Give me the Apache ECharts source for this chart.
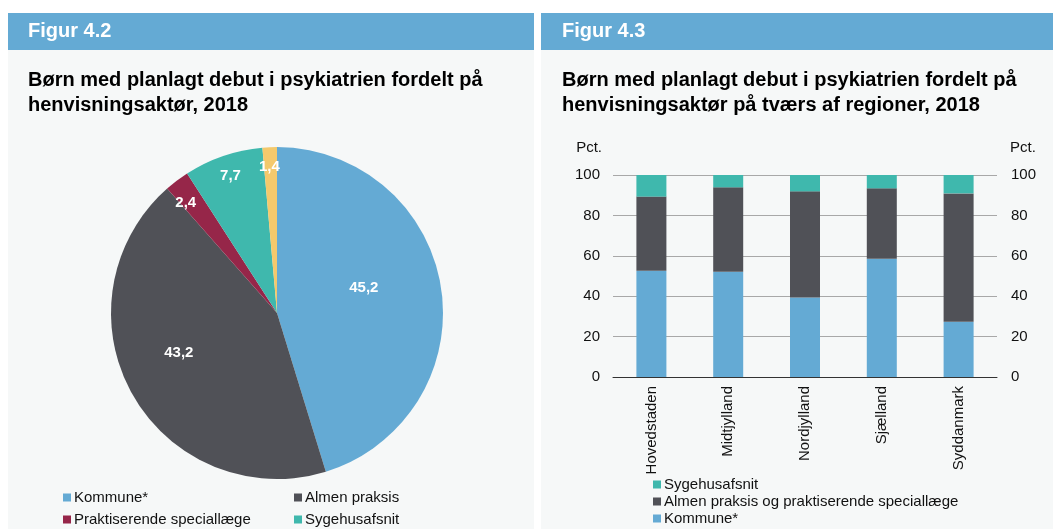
<!DOCTYPE html>
<html>
<head>
<meta charset="utf-8">
<script src="https://cdn.jsdelivr.net/npm/echarts@6/dist/echarts.min.js"></script>
<style>
  html, body { margin: 0; padding: 0; background: #fff; }
  #main { width: 1053px; height: 529px; }
</style>
</head>
<body>
<div id="main"></div>
<script>
// Figur 4.2 - pie
const pieNames = ['Kommune*', 'Almen praksis', 'Praktiserende speciallæge', 'Sygehusafsnit', 'Andet']
const pieValues = [45.2, 43.2, 2.4, 7.7, 1.4]
const pieColors = ['#64aad4', '#505157', '#962649', '#3fb8ad', '#f4c96c']
// small nudges so the value labels sit where the original put them
const pieLabelOffsets = [[-20, -9], [-4, -13], [-1, 9], [2, 4], [-1, 3]]

// Figur 4.3 - stacked bars
const regions = ['Hovedstaden', 'Midtjylland', 'Nordjylland', 'Sjælland', 'Syddanmark']
const kommune = [52.6, 52.1, 39.4, 58.6, 27.4]
const almen = [36.7, 41.8, 52.5, 34.8, 63.5]
const sygehus = [10.7, 6.1, 8.1, 6.6, 9.1]

const font = '"Liberation Sans", Arial, Helvetica, sans-serif'
const fmt = v => v.toFixed(1).replace('.', ',')

let myChart = echarts.init(document.getElementById('main'))

// transparent copy of the pie, only used to place the value labels
function labelPie(radius, showIdx) {
  return {
    type: 'pie',
    silent: true,
    center: [277, 313],
    radius: radius,
    startAngle: 90,
    z: 5,
    itemStyle: { color: 'transparent' },
    labelLine: { show: false },
    data: pieValues.map((v, i) => ({
      name: pieNames[i],
      value: v,
      label: {
        show: showIdx.indexOf(i) >= 0,
        position: 'inside',
        offset: pieLabelOffsets[i],
        formatter: p => fmt(p.value),
        color: '#fff',
        fontWeight: 'bold',
        fontSize: 15,
        fontFamily: font
      }
    }))
  }
}

function legendBox(left, top, gap, names) {
  return {
    left: left, top: top, orient: 'vertical', itemGap: gap,
    padding: 0, height: 80,
    itemWidth: 8, itemHeight: 8, icon: 'rect', itemStyle: { borderWidth: 0 },
    textStyle: { fontSize: 15, color: '#111', padding: [0, 0, 0, -2] },
    data: names
  }
}

let option = {
  animation: false,
  textStyle: { fontFamily: font },
  graphic: [
    { type: 'rect', z: -10, shape: { x: 8, y: 50, width: 526, height: 479 }, style: { fill: '#f6f8f8' } },
    { type: 'rect', z: -10, shape: { x: 8, y: 13, width: 526, height: 37 }, style: { fill: '#64aad4' } },
    { type: 'rect', z: -10, shape: { x: 541, y: 50, width: 512, height: 479 }, style: { fill: '#f6f8f8' } },
    { type: 'rect', z: -10, shape: { x: 541, y: 13, width: 512, height: 37 }, style: { fill: '#64aad4' } }
  ],
  title: [
    {
      text: 'Figur 4.2', left: 28, top: 21, padding: 0,
      textStyle: { color: '#fff', fontSize: 20, fontWeight: 'bold', fontFamily: font }
    },
    {
      text: 'Figur 4.3', left: 562, top: 21, padding: 0,
      textStyle: { color: '#fff', fontSize: 20, fontWeight: 'bold', fontFamily: font }
    },
    {
      text: 'Børn med planlagt debut i psykiatrien fordelt på\nhenvisningsaktør, 2018',
      left: 28, top: 68, padding: 0,
      textStyle: { color: '#000', fontSize: 20, fontWeight: 'bold', lineHeight: 25, fontFamily: font }
    },
    {
      text: 'Børn med planlagt debut i psykiatrien fordelt på\nhenvisningsaktør på tværs af regioner, 2018',
      left: 562, top: 68, padding: 0,
      textStyle: { color: '#000', fontSize: 20, fontWeight: 'bold', lineHeight: 25, fontFamily: font }
    }
  ],
  legend: [
    legendBox(63, 490, 7, ['Kommune*', 'Praktiserende speciallæge']),
    legendBox(294, 490, 7, ['Almen praksis', 'Sygehusafsnit']),
    legendBox(653, 477, 2, ['Sygehusafsnit', 'Almen praksis og praktiserende speciallæge', 'Kommune*'])
  ],
  grid: { left: 613, right: 56, top: 175, bottom: 152 },
  xAxis: {
    type: 'category',
    data: regions,
    axisLine: { lineStyle: { color: '#333', width: 1 } },
    axisTick: { length: 5, lineStyle: { color: '#333' } },
    axisLabel: { rotate: 90, interval: 0, fontSize: 15, color: '#111', margin: 9 }
  },
  yAxis: [
    {
      type: 'value', min: 0, max: 100, interval: 20, position: 'left',
      name: 'Pct.', nameLocation: 'end', nameGap: 20,
      nameTextStyle: { fontSize: 15, color: '#111', align: 'right', padding: [0, 11, 0, 0] },
      axisLine: { show: false }, axisTick: { show: false },
      axisLabel: { fontSize: 15, color: '#111', margin: 13 },
      splitLine: { lineStyle: { color: '#a8a8a8', width: 1 } }
    },
    {
      type: 'value', min: 0, max: 100, interval: 20, position: 'right',
      name: 'Pct.', nameLocation: 'end', nameGap: 20,
      nameTextStyle: { fontSize: 15, color: '#111', align: 'left', padding: [0, 0, 0, 13] },
      axisLine: { show: false }, axisTick: { show: false },
      axisLabel: { fontSize: 15, color: '#111', margin: 14 },
      splitLine: { show: false }
    }
  ],
  series: [
    {
      type: 'pie',
      center: [277, 313],
      radius: 166,
      startAngle: 90,
      silent: true,
      label: { show: false },
      labelLine: { show: false },
      data: pieValues.map((v, i) => ({ name: pieNames[i], value: v, itemStyle: { color: pieColors[i] } }))
    },
    labelPie([44, 166], [0, 1]),
    labelPie([0, 293], [2, 3, 4]),
    {
      name: 'Kommune*', type: 'bar', stack: 'total', barWidth: 30,
      itemStyle: { color: '#64aad4' }, data: kommune
    },
    {
      name: 'Almen praksis og praktiserende speciallæge', type: 'bar', stack: 'total', barWidth: 30,
      itemStyle: { color: '#505157' }, data: almen
    },
    {
      name: 'Sygehusafsnit', type: 'bar', stack: 'total', barWidth: 30,
      itemStyle: { color: '#3fb8ad' }, data: sygehus
    }
  ]
}
myChart.setOption(option)
</script>
</body>
</html>
